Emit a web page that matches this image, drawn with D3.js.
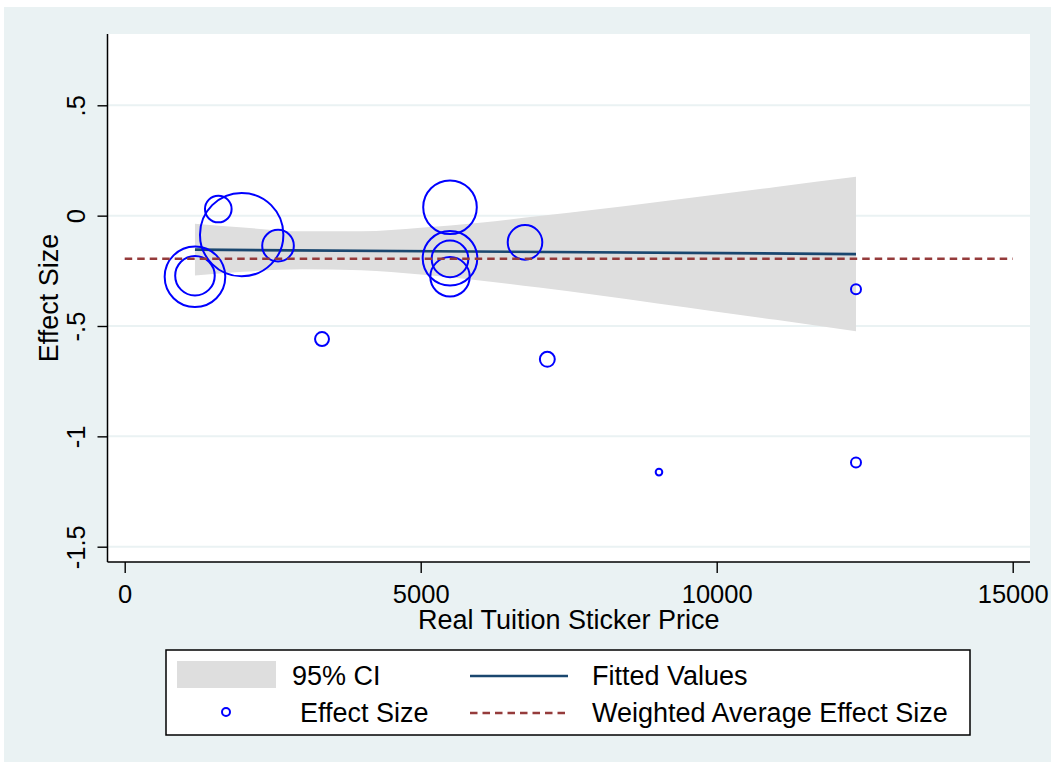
<!DOCTYPE html>
<html>
<head>
<meta charset="utf-8">
<script src="https://cdn.jsdelivr.net/npm/d3@7"></script>
<style>
  body { margin: 0; background: #ffffff; }
  svg { display: block; font-family: "Liberation Sans", Arial, Helvetica, sans-serif; }
</style>
</head>
<body>
<svg id="chart" width="1055" height="766"></svg>
<script>
// ---- Study-level effect sizes ----
const tuition = [1187, 1187, 1581, 1976, 2590, 3333, 5495, 5495, 5495, 5495, 6762, 7139, 9025, 12353, 12353];
const effect  = [-0.277, -0.272, 0.030, -0.086, -0.136, -0.559, 0.038, -0.193, -0.196, -0.277, -0.121, -0.651, -1.162, -0.334, -1.118];
const weight  = [52.8, 22.5, 10.2, 100, 14.4, 2.8, 41.3, 42.9, 19.3, 22.3, 17.2, 3.2, 0.63, 1.44, 1.44];

// ---- Weighted linear fit and its 95% confidence band ----
const fitX = [1187, 12353];
const fitY = [-0.154, -0.174];
const ciX     = [1187, 2000, 3000, 4000, 5000, 6000, 7000, 8000, 9000, 10000, 11000, 12353];
const ciUpper = [-0.037, -0.054, -0.071, -0.071, -0.055, -0.032, -0.002, 0.029, 0.062, 0.096, 0.130, 0.176];
const ciLower = [-0.271, -0.254, -0.243, -0.247, -0.267, -0.294, -0.326, -0.361, -0.398, -0.435, -0.472, -0.524];

// ---- Weighted average effect size ----
const avgEffect = -0.195;
const avgSpan = [0, 15000];

// ---- Axis ticks ----
const xTicks = [0, 5000, 10000, 15000];
const yTicks = [-1.5, -1, -0.5, 0, 0.5];
const yTickLabels = ["-1.5", "-1", "-.5", "0", ".5"];

const svg = d3.select("#chart");
const W = 1055, H = 766;

// plot frame
const plot = { left: 107.5, right: 1030, top: 34, bottom: 562 };

const x = d3.scaleLinear().domain([0, 15000]).range([124.7, 1012.7]);
const y = d3.scaleLinear().domain([-1.5, 0.5]).range([546.7, 105.3]);
const r = d3.scaleSqrt().domain([0, d3.max(weight)]).range([0, 41.7]);

// outer background
svg.append("rect").attr("x", 4).attr("y", 7).attr("width", W - 8).attr("height", H - 11)
  .attr("fill", "#eaf2f3");

// plot region
svg.append("rect")
  .attr("x", plot.left).attr("y", plot.top)
  .attr("width", plot.right - plot.left).attr("height", plot.bottom - plot.top)
  .attr("fill", "#ffffff");

// horizontal gridlines
svg.append("g").selectAll("line").data(yTicks).join("line")
  .attr("x1", plot.left).attr("x2", plot.right)
  .attr("y1", d => y(d)).attr("y2", d => y(d))
  .attr("stroke", "#eaf2f3").attr("stroke-width", 2);

// confidence band
const band = ciX.map((v, i) => ({ x: v, lo: ciLower[i], hi: ciUpper[i] }));
svg.append("path").datum(band)
  .attr("fill", "#dedede")
  .attr("d", d3.area().x(d => x(d.x)).y0(d => y(d.lo)).y1(d => y(d.hi)).curve(d3.curveMonotoneX));

// fitted values
svg.append("path").datum(fitX.map((v, i) => [v, fitY[i]]))
  .attr("fill", "none").attr("stroke", "#1a476f").attr("stroke-width", 2.7)
  .attr("d", d3.line().x(d => x(d[0])).y(d => y(d[1])));

// effect sizes, sized by weight
const pts = tuition.map((v, i) => ({ x: v, y: effect[i], w: weight[i] }));
svg.append("g").selectAll("circle").data(pts).join("circle")
  .attr("cx", d => x(d.x)).attr("cy", d => y(d.y)).attr("r", d => r(d.w))
  .attr("fill", "none").attr("stroke", "#0000ff").attr("stroke-width", 2);

// weighted average line
svg.append("line")
  .attr("x1", x(avgSpan[0])).attr("x2", x(avgSpan[1]))
  .attr("y1", y(avgEffect)).attr("y2", y(avgEffect))
  .attr("stroke", "#953b3b").attr("stroke-width", 2.6)
  .attr("stroke-dasharray", "7.5 5");

// axes
const yAxis = svg.append("g").attr("transform", `translate(${plot.left},0)`)
  .call(d3.axisLeft(y).tickValues(yTicks).tickSize(10).tickFormat((d, i) => yTickLabels[i]));
yAxis.select(".domain").remove();
yAxis.selectAll(".tick line").attr("stroke", "#000").attr("stroke-width", 1.4);
yAxis.selectAll(".tick text")
  .attr("x", null).attr("dy", null)
  .attr("transform", "translate(-22.5,0) rotate(-90)")
  .attr("text-anchor", "middle")
  .attr("fill", "#000").attr("font-size", 25.5);

const xAxis = svg.append("g").attr("transform", `translate(0,${plot.bottom})`)
  .call(d3.axisBottom(x).tickValues(xTicks).tickSize(11).tickFormat(d3.format("d")));
xAxis.select(".domain").remove();
xAxis.selectAll(".tick line").attr("stroke", "#000").attr("stroke-width", 1.4);
xAxis.selectAll(".tick text")
  .attr("y", 41).attr("dy", null)
  .attr("fill", "#000").attr("font-size", 25.5);

// axis lines
svg.append("line").attr("x1", plot.left).attr("x2", plot.left).attr("y1", plot.top).attr("y2", plot.bottom)
  .attr("stroke", "#000").attr("stroke-width", 1.5);
svg.append("line").attr("x1", plot.left).attr("x2", plot.right).attr("y1", plot.bottom).attr("y2", plot.bottom)
  .attr("stroke", "#000").attr("stroke-width", 1.5);

// axis titles
svg.append("text").attr("x", (plot.left + plot.right) / 2).attr("y", 629)
  .attr("text-anchor", "middle").attr("font-size", 27).attr("fill", "#000")
  .text("Real Tuition Sticker Price");
svg.append("text")
  .attr("transform", `translate(57.5,${(plot.top + plot.bottom) / 2}) rotate(-90)`)
  .attr("text-anchor", "middle").attr("font-size", 27).attr("fill", "#000")
  .text("Effect Size");

// legend
const lg = svg.append("g");
lg.append("rect").attr("x", 166).attr("y", 650).attr("width", 804).attr("height", 85)
  .attr("fill", "#ffffff").attr("stroke", "#000").attr("stroke-width", 1.5);
lg.append("rect").attr("x", 177).attr("y", 661).attr("width", 99).attr("height", 27).attr("fill", "#dedede");
lg.append("text").attr("x", 292).attr("y", 685).attr("font-size", 27).text("95% CI");
lg.append("line").attr("x1", 470).attr("x2", 568).attr("y1", 676).attr("y2", 676)
  .attr("stroke", "#1a476f").attr("stroke-width", 2.7);
lg.append("text").attr("x", 592).attr("y", 685).attr("font-size", 27).text("Fitted Values");
lg.append("circle").attr("cx", 226).attr("cy", 712).attr("r", 4)
  .attr("fill", "none").attr("stroke", "#0000ff").attr("stroke-width", 2);
lg.append("text").attr("x", 300).attr("y", 722).attr("font-size", 27).text("Effect Size");
lg.append("line").attr("x1", 470).attr("x2", 568).attr("y1", 713).attr("y2", 713)
  .attr("stroke", "#953b3b").attr("stroke-width", 2.6).attr("stroke-dasharray", "7.5 5");
lg.append("text").attr("x", 592).attr("y", 722).attr("font-size", 27).text("Weighted Average Effect Size");
</script>
</body>
</html>
